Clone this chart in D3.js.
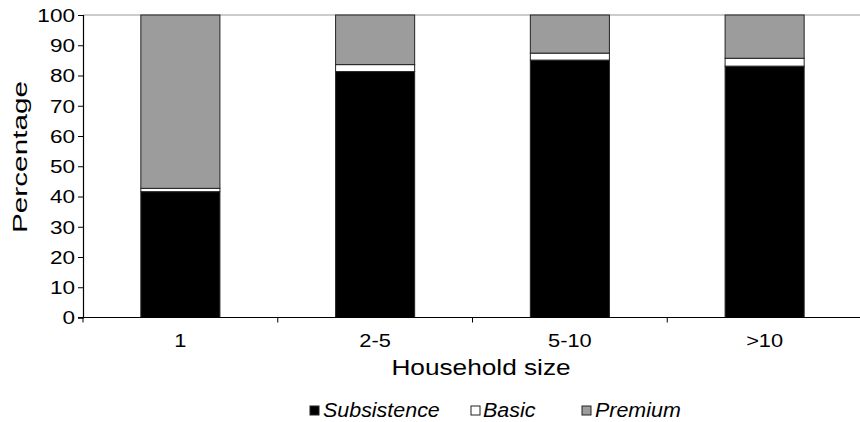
<!DOCTYPE html>
<html>
<head>
<meta charset="utf-8">
<script src="https://cdn.jsdelivr.net/npm/d3@7"></script>
<style>
  html, body { margin: 0; padding: 0; background: #fff; overflow: hidden; }
  svg { display: block; }
  svg text { font-family: "Liberation Sans", Arial, sans-serif; fill: #000; }
</style>
</head>
<body>
<svg id="chart" width="860" height="422"></svg>
<script>
// Household size groups and the share of each quality tier (percent)
const categories = ["1", "2-5", "5-10", ">10"];
const subsistence = [41.6, 81.3, 85.1, 83.1];
const basic = [1.1, 2.3, 2.3, 2.6];
const premium = [57.3, 16.4, 12.6, 14.3];
const seriesNames = ["Subsistence", "Basic", "Premium"];
const seriesColors = ["#000000", "#ffffff", "#9c9c9c"];
const yTicks = [0, 10, 20, 30, 40, 50, 60, 70, 80, 90, 100];

const svg = d3.select("#chart");
const plotLeft = 83, plotRight = 862, plotTop = 15, plotBottom = 317.5;

const rows = categories.map((c, i) => ({
  cat: c, Subsistence: subsistence[i], Basic: basic[i], Premium: premium[i]
}));
const stacked = d3.stack().keys(seriesNames)(rows);

const x = d3.scaleBand().domain(categories).range([plotLeft, plotRight])
  .paddingInner(0.594).paddingOuter(0.297);
const y = d3.scaleLinear().domain([0, 100]).range([plotBottom, plotTop]);
const color = d3.scaleOrdinal().domain(seriesNames).range(seriesColors);

// top reference line at 100
svg.append("line")
  .attr("x1", plotLeft).attr("x2", 860)
  .attr("y1", y(100)).attr("y2", y(100))
  .attr("stroke", "#9a9a9a").attr("stroke-width", 1.2);

// stacked bars
svg.append("g").selectAll("g")
  .data(stacked).join("g")
  .attr("fill", d => color(d.key))
  .selectAll("rect")
  .data(d => d).join("rect")
  .attr("x", d => x(d.data.cat))
  .attr("width", x.bandwidth())
  .attr("y", d => y(d[1]))
  .attr("height", d => y(d[0]) - y(d[1]))
  .attr("stroke", "#222")
  .attr("stroke-width", 1);

// y axis
const yAxis = svg.append("g")
  .attr("transform", `translate(${plotLeft},0)`)
  .call(d3.axisLeft(y).tickValues(yTicks).tickSize(5).tickPadding(6));
yAxis.select(".domain").attr("stroke", "#000").attr("stroke-width", 1.2);
yAxis.selectAll(".tick line").attr("stroke", "#000");
yAxis.selectAll(".tick text")
  .attr("font-size", 18.5)
  .attr("font-family", "Liberation Sans, Arial, sans-serif")
  .attr("dy", "0.35em")
  .attr("transform", "scale(1.22,1)")
  .attr("x", -8 / 1.22);

// x axis: tick marks sit on category boundaries
const xAxisG = svg.append("g").attr("transform", `translate(0,${plotBottom})`);
xAxisG.append("line")
  .attr("x1", plotLeft - 5).attr("x2", plotRight)
  .attr("stroke", "#000").attr("stroke-width", 1.2);
const step = x.step();
xAxisG.selectAll("line.bt")
  .data(categories.map(c => x(c) + x.bandwidth() / 2 - step / 2).concat([plotRight]))
  .join("line").attr("class", "bt")
  .attr("x1", d => d).attr("x2", d => d)
  .attr("y1", 0).attr("y2", 5)
  .attr("stroke", "#000");
xAxisG.selectAll("text")
  .data(categories).join("text")
  .attr("transform", d => `translate(${x(d) + x.bandwidth() / 2},29.5) scale(1.18,1)`)
  .attr("text-anchor", "middle")
  .attr("font-size", 18.5)
  .text(d => d);

// axis titles
svg.append("text")
  .attr("transform", `translate(481,375) scale(1.22,1)`)
  .attr("text-anchor", "middle")
  .attr("font-size", 21.5)
  .text("Household size");
svg.append("text")
  .attr("transform", `translate(27,157) rotate(-90) scale(1.45,1)`)
  .attr("text-anchor", "middle")
  .attr("font-size", 20.5)
  .text("Percentage");

// legend
const legendItems = [
  { name: "Subsistence", sx: 310, tx: 323 },
  { name: "Basic", sx: 471, tx: 483 },
  { name: "Premium", sx: 582, tx: 595 }
];
const lg = svg.append("g");
lg.selectAll("rect").data(legendItems).join("rect")
  .attr("x", d => d.sx).attr("y", 406).attr("width", 9).attr("height", 9)
  .attr("fill", d => color(d.name))
  .attr("stroke", "#222").attr("stroke-width", 1);
lg.selectAll("text").data(legendItems).join("text")
  .attr("transform", d => `translate(${d.tx},417) scale(1.1,1)`)
  .attr("font-size", 19.5)
  .attr("font-style", "italic")
  .text(d => d.name);
</script>
</body>
</html>
